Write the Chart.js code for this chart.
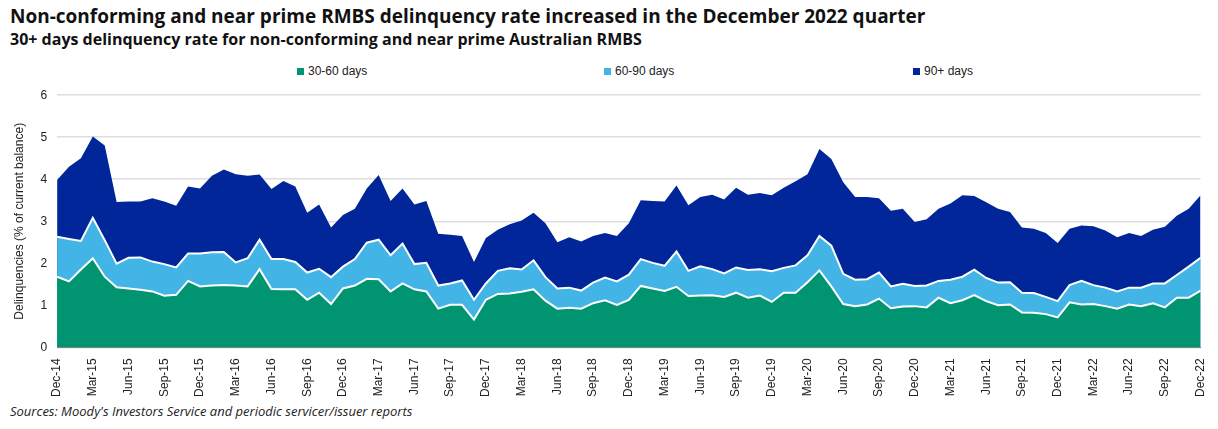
<!DOCTYPE html>
<html>
<head>
<meta charset="utf-8">
<script src="https://cdn.jsdelivr.net/npm/chart.js@4.4.0/dist/chart.umd.min.js"></script>
<style>
  body { margin: 0; background: #fff; width: 1218px; height: 429px; overflow: hidden; font-family: "Liberation Sans", Arial, sans-serif; }
  .title { position: absolute; left: 10px; top: 3px; font: bold 19px "Open Sans", sans-serif; color: #111; }
  .subtitle { position: absolute; left: 10px; top: 28px; font: bold 16px "Open Sans", sans-serif; color: #111; }
  .legend { position: absolute; top: 64px; font-size: 12px; color: #222; }
  .legend span.box { display: inline-block; width: 7px; height: 7px; margin-right: 4px; }
  .source { position: absolute; left: 10px; top: 402px; font: italic 13px "Open Sans", sans-serif; color: #222; }
  #wrap { position: absolute; left: 0; top: 78px; width: 1218px; height: 322px; }
</style>
</head>
<body>
<div class="title">Non-conforming and near prime RMBS delinquency rate increased in the December 2022 quarter</div>
<div class="subtitle">30+ days delinquency rate for non-conforming and near prime Australian RMBS</div>
<div class="legend" style="left:297px"><span class="box" style="background:#009570"></span>30-60 days</div>
<div class="legend" style="left:604px"><span class="box" style="background:#42b4e6"></span>60-90 days</div>
<div class="legend" style="left:913px"><span class="box" style="background:#00269a"></span>90+ days</div>
<div id="wrap"><canvas id="chart"></canvas></div>
<div class="source">Sources: Moody's Investors Service and periodic servicer/issuer reports</div>
<script>
// Month labels Dec-14 .. Dec-22
const months = ['Jan', 'Feb', 'Mar', 'Apr', 'May', 'Jun', 'Jul', 'Aug', 'Sep', 'Oct', 'Nov', 'Dec'];
const labels = ['Dec-14'];
for (let y = 15; y <= 22; y++) {
    months.forEach(m => labels.push(m + '-' + y));
}

// Cumulative levels (% of current balance)
// top of 30-60 days band
const upTo60 = [1.68,
    1.57, 1.85, 2.12, 1.68, 1.43, 1.40, 1.37, 1.33, 1.23, 1.25, 1.58, 1.45,
    1.47, 1.48, 1.47, 1.45, 1.86, 1.39, 1.38, 1.38, 1.13, 1.30, 1.03, 1.40,
    1.47, 1.63, 1.62, 1.33, 1.52, 1.38, 1.33, 0.92, 1.01, 1.01, 0.66, 1.13,
    1.27, 1.28, 1.32, 1.38, 1.11, 0.92, 0.94, 0.92, 1.05, 1.12, 1.01, 1.13,
    1.46, 1.40, 1.34, 1.44, 1.22, 1.23, 1.24, 1.20, 1.30, 1.18, 1.23, 1.08,
    1.30, 1.30, 1.55, 1.83, 1.45, 1.03, 0.98, 1.02, 1.16, 0.93, 0.97, 0.98,
    0.95, 1.18, 1.05, 1.12, 1.24, 1.10, 1.00, 1.02, 0.83, 0.82, 0.79, 0.71,
    1.07, 1.02, 1.03, 0.98, 0.92, 1.02, 0.98, 1.05, 0.95, 1.18, 1.18, 1.35];
// top of 60-90 days band
const upTo90 = [2.63,
    2.58, 2.53, 3.08, 2.55, 1.99, 2.13, 2.14, 2.04, 1.98, 1.90, 2.23, 2.23,
    2.26, 2.27, 2.02, 2.12, 2.56, 2.10, 2.10, 2.03, 1.78, 1.87, 1.67, 1.92,
    2.10, 2.49, 2.56, 2.19, 2.47, 1.98, 2.01, 1.47, 1.52, 1.59, 1.13, 1.52,
    1.82, 1.88, 1.85, 2.07, 1.67, 1.40, 1.42, 1.35, 1.54, 1.66, 1.57, 1.73,
    2.10, 2.01, 1.94, 2.28, 1.82, 1.93, 1.86, 1.76, 1.90, 1.84, 1.86, 1.81,
    1.89, 1.95, 2.19, 2.65, 2.42, 1.75, 1.61, 1.62, 1.78, 1.45, 1.51, 1.46,
    1.47, 1.58, 1.61, 1.68, 1.85, 1.65, 1.54, 1.55, 1.30, 1.29, 1.20, 1.10,
    1.48, 1.58, 1.48, 1.42, 1.33, 1.42, 1.42, 1.52, 1.52, 1.72, 1.92, 2.13];
// total 30+ days (top of 90+ band)
const total = [3.98,
    4.30, 4.50, 5.02, 4.80, 3.46, 3.47, 3.47, 3.55, 3.47, 3.37, 3.83, 3.78,
    4.08, 4.23, 4.12, 4.08, 4.11, 3.77, 3.96, 3.83, 3.20, 3.40, 2.85, 3.15,
    3.30, 3.78, 4.10, 3.48, 3.78, 3.40, 3.48, 2.70, 2.68, 2.65, 2.03, 2.60,
    2.80, 2.93, 3.02, 3.20, 2.95, 2.50, 2.62, 2.52, 2.65, 2.72, 2.65, 2.95,
    3.50, 3.48, 3.47, 3.85, 3.38, 3.58, 3.63, 3.52, 3.80, 3.63, 3.67, 3.62,
    3.80, 3.95, 4.12, 4.72, 4.48, 3.93, 3.58, 3.58, 3.55, 3.25, 3.30, 2.98,
    3.05, 3.30, 3.42, 3.62, 3.60, 3.45, 3.30, 3.22, 2.85, 2.82, 2.72, 2.48,
    2.82, 2.90, 2.88, 2.78, 2.62, 2.72, 2.65, 2.80, 2.87, 3.13, 3.30, 3.62];

const yTicks = [0, 1, 2, 3, 4, 5, 6];

function band(label, data, color, order, border) {
    return {
        label: label,
        data: data,
        backgroundColor: color,
        borderColor: border,
        borderWidth: border ? 2 : 0,
        fill: 'origin',
        pointRadius: 0,
        tension: 0,
        order: order
    };
}

new Chart(document.getElementById('chart'), {
    type: 'line',
    data: {
        labels: labels,
        datasets: [
            band('30-60 days', upTo60, '#009570', 1, '#ffffff'),
            band('60-90 days', upTo90, '#42b4e6', 2, '#ffffff'),
            band('90+ days', total, '#00269a', 3, null)
        ]
    },
    options: {
        responsive: true,
        maintainAspectRatio: false,
        animation: false,
        layout: { padding: { left: 8, right: 16, top: 4 } },
        plugins: { legend: { display: false }, tooltip: { enabled: false } },
        scales: {
            x: {
                offset: false,
                grid: { display: false, drawTicks: true },
                border: { color: '#888' },
                ticks: {
                    autoSkip: false,
                    maxRotation: 90,
                    minRotation: 90,
                    color: '#222',
                    font: { family: 'Liberation Sans', size: 12 },
                    callback: (v, i) => (i % 3 === 0 ? labels[i] : '')
                }
            },
            y: {
                min: 0,
                max: 6,
                afterBuildTicks: axis => { axis.ticks = yTicks.map(v => ({ value: v })); },
                grid: { color: '#dddddd', lineWidth: 1.5, drawTicks: false },
                border: { display: false },
                ticks: { color: '#222', padding: 10, font: { family: 'Liberation Sans', size: 12 } },
                title: {
                    display: true,
                    text: 'Delinquencies (% of current balance)',
                    color: '#222',
                    font: { family: 'Liberation Sans', size: 12 }
                }
            }
        }
    }
});
</script>
</body>
</html>
